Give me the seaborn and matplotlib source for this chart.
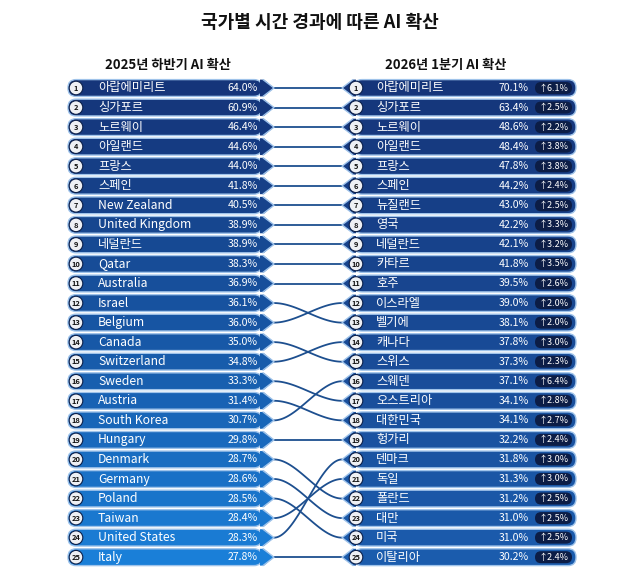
import numpy as np
import pandas as pd
import matplotlib
matplotlib.use("Agg")
import matplotlib.pyplot as plt
import seaborn as sns
from matplotlib.patches import FancyBboxPatch, Polygon, Circle
from matplotlib.colors import to_rgb

sns.set_theme(style="white")
plt.rcParams['font.family'] = ['Noto Sans CJK KR', 'DejaVu Sans']

title = "국가별 시간 경과에 따른 AI 확산"
left_title = "2025년 하반기 AI 확산"
right_title = "2026년 1분기 AI 확산"

left_names = ["아랍에미리트", "싱가포르", "노르웨이", "아일랜드", "프랑스", "스페인", "New Zealand",
              "United Kingdom", "네덜란드", "Qatar", "Australia", "Israel", "Belgium", "Canada",
              "Switzerland", "Sweden", "Austria", "South Korea", "Hungary", "Denmark", "Germany",
              "Poland", "Taiwan", "United States", "Italy"]
left_vals = [64.0, 60.9, 46.4, 44.6, 44.0, 41.8, 40.5, 38.9, 38.9, 38.3, 36.9, 36.1, 36.0, 35.0,
             34.8, 33.3, 31.4, 30.7, 29.8, 28.7, 28.6, 28.5, 28.4, 28.3, 27.8]
right_names = ["아랍에미리트", "싱가포르", "노르웨이", "아일랜드", "프랑스", "스페인", "뉴질랜드", "영국",
               "네덜란드", "카타르", "호주", "이스라엘", "벨기에", "캐나다", "스위스", "스웨덴", "오스트리아",
               "대한민국", "헝가리", "덴마크", "독일", "폴란드", "대만", "미국", "이탈리아"]
right_vals = [70.1, 63.4, 48.6, 48.4, 47.8, 44.2, 43.0, 42.2, 42.1, 41.8, 39.5, 39.0, 38.1, 37.8,
              37.3, 37.1, 34.1, 34.1, 32.2, 31.8, 31.3, 31.2, 31.0, 31.0, 30.2]
changes = [6.1, 2.5, 2.2, 3.8, 3.8, 2.4, 2.5, 3.3, 3.2, 3.5, 2.6, 2.0, 2.0, 3.0, 2.3, 6.4, 2.8,
           2.7, 2.4, 3.0, 3.0, 2.5, 2.5, 2.5, 2.4]
# right rank reached by each left rank (as drawn in the reference)
link_to = [1, 2, 3, 4, 5, 6, 7, 8, 9, 10, 11, 13, 12, 15, 14, 17, 18, 16, 19, 22, 23, 24, 21, 20, 25]

W, H = 640, 587
fig = plt.figure(figsize=(W / 100, H / 100), dpi=100)
ax = fig.add_axes([0, 0, 1, 1])

y0, dy, hh = 88, 19.55, 8.4
n = len(left_names)
ys = [y0 + i * dy for i in range(n)]

def mix(c1, c2, t):
    a, b = np.array(to_rgb(c1)), np.array(to_rgb(c2))
    return tuple(a + (b - a) * t)

LX0, LX1, LTIP = 68, 262, 274
RX0, RTIP, RX1 = 354, 342, 576

# connectors
rows = []
s = np.linspace(0, 1, 60)
for i, j in enumerate(link_to):
    ya, yb = ys[i], ys[j - 1]
    xs = LTIP + (RTIP - LTIP) * s
    yy = ya + (yb - ya) * (3 * s ** 2 - 2 * s ** 3)
    for xv, yv in zip(xs, yy):
        rows.append({"x": xv, "y": yv, "link": i})
df = pd.DataFrame(rows)
sns.lineplot(data=df, x="x", y="y", units="link", estimator=None, sort=False,
             color="#1d4f8f", lw=1.3, ax=ax, zorder=1, legend=False)
ax.set_xlim(0, W)
ax.set_ylim(H, 0)
ax.axis("off")

for i in range(n):
    y = ys[i]
    t = i / (n - 1)
    lc = mix("#15357a", "#1a7fd8", t ** 1.2)
    rc = mix("#15357a", "#1b5cad", t)
    ax.add_patch(FancyBboxPatch((LX0, y - hh), LX1 - LX0, 2 * hh,
                                boxstyle="round,pad=0,rounding_size=8", fc=lc, ec="#9fc3ea", lw=1.0, zorder=2))
    ax.add_patch(Polygon([(LX1 - 2, y - hh), (LX1 + 2, y - hh), (LTIP, y), (LX1 + 2, y + hh), (LX1 - 2, y + hh)],
                         closed=True, fc=lc, ec="none", zorder=3))
    ax.plot([LX1 + 1, LTIP, LX1 + 1], [y - hh, y, y + hh], color="#9fc3ea", lw=1.0, zorder=3)
    ax.add_patch(FancyBboxPatch((RX0, y - hh), RX1 - RX0, 2 * hh,
                                boxstyle="round,pad=0,rounding_size=8", fc=rc, ec="#9fc3ea", lw=1.0, zorder=2))
    ax.add_patch(Polygon([(RX0 + 2, y - hh), (RX0 - 1, y - hh), (RTIP, y), (RX0 - 1, y + hh), (RX0 + 2, y + hh)],
                         closed=True, fc=rc, ec="none", zorder=3))
    ax.plot([RX0 - 1, RTIP, RX0 - 1], [y - hh, y, y + hh], color="#9fc3ea", lw=1.0, zorder=3)
    for cx in (76, 356):
        ax.add_patch(Circle((cx, y), 6.8, fc="#eef0f4", ec="#0b1f4a", lw=0.8, zorder=4))
        ax.text(cx, y + 0.3, str(i + 1), ha="center", va="center", fontsize=5.4, color="#111",
                fontweight="bold", zorder=5)
    ax.text(98, y, left_names[i], ha="left", va="center", fontsize=8.8, color="white", zorder=5)
    ax.text(258, y, f"{left_vals[i]:.1f}%", ha="right", va="center", fontsize=7.6, color="white", zorder=5)
    ax.text(376, y, right_names[i], ha="left", va="center", fontsize=8.8, color="white", zorder=5)
    ax.text(529, y, f"{right_vals[i]:.1f}%", ha="right", va="center", fontsize=7.6, color="white", zorder=5)
    ax.add_patch(FancyBboxPatch((535, y - 6), 37, 12, boxstyle="round,pad=0,rounding_size=6",
                                fc="#0c1d46", ec="none", zorder=4))
    ax.text(553.5, y, f"↑{changes[i]:.1f}%", ha="center", va="center", fontsize=6.5, color="white", zorder=5)

ax.text(W / 2, 22, title, ha="center", va="center", fontsize=13, fontweight="bold", color="#111")
ax.text(168, 65, left_title, ha="center", va="center", fontsize=9.5, fontweight="bold", color="#111")
ax.text(446, 65, right_title, ha="center", va="center", fontsize=9.5, fontweight="bold", color="#111")

fig.savefig("out.png", dpi=100, facecolor="white")
